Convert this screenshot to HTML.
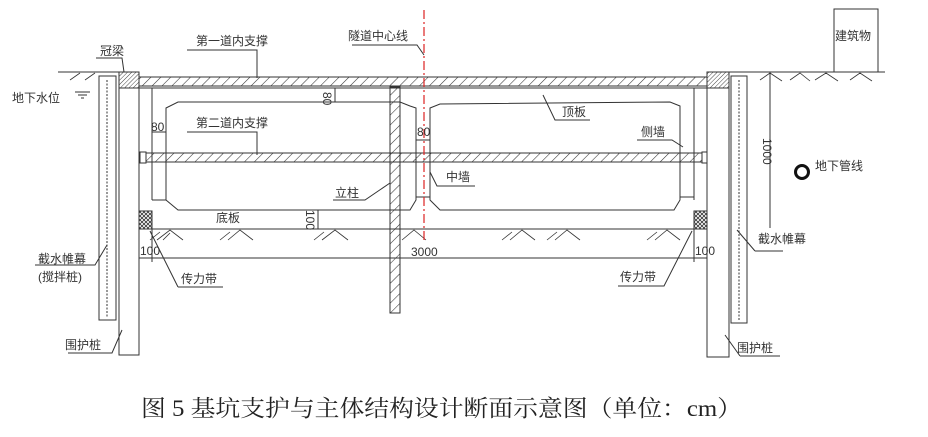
<!DOCTYPE html>
<html><head><meta charset="utf-8"><style>
html,body{margin:0;padding:0;background:#fff;}
svg{display:block}
text{font-family:"Liberation Sans","Noto Sans CJK SC",sans-serif;font-size:12px;fill:#333;}
.cap{font-family:"Liberation Serif","Noto Serif CJK SC",serif;font-size:23px;fill:#222;}
</style></head><body>
<svg width="928" height="437" viewBox="0 0 928 437" xmlns="http://www.w3.org/2000/svg">
<defs>
<pattern id="h" width="7" height="7" patternUnits="userSpaceOnUse" patternTransform="rotate(45)">
<line x1="0" y1="0" x2="0" y2="7" stroke="#333" stroke-width="1.1"/></pattern>
<pattern id="hd" width="3" height="3" patternUnits="userSpaceOnUse" patternTransform="rotate(45)">
<line x1="0" y1="0" x2="0" y2="3" stroke="#333" stroke-width="0.9"/></pattern>
<pattern id="x" width="4" height="4" patternUnits="userSpaceOnUse">
<path d="M0 0L4 4M4 0L0 4" stroke="#333" stroke-width="0.8"/></pattern>
</defs>
<rect width="928" height="437" fill="#fff"/>
<g stroke="#333" stroke-width="1" fill="none">
<!-- ground -->
<line x1="58" y1="72" x2="120" y2="72"/>
<line x1="729" y1="72" x2="885" y2="72"/>
<!-- building -->
<rect x="834" y="9" width="44" height="63"/>
<!-- left mixing pile -->
<rect x="99" y="76" width="17" height="244"/>
<line x1="107" y1="80" x2="107" y2="318" stroke-dasharray="2,1.5"/>
<!-- right mixing pile -->
<rect x="731" y="76" width="16" height="247"/>
<line x1="739" y1="80" x2="739" y2="321" stroke-dasharray="2,1.5"/>
<!-- retaining piles -->
<rect x="119" y="72" width="20" height="283"/>
<rect x="707" y="72" width="22" height="285"/>
<!-- crown beams -->
<rect x="119" y="72" width="20" height="16" fill="url(#hd)"/>
<rect x="707" y="72" width="22" height="16" fill="url(#hd)"/>
<!-- top strut -->
<rect x="139" y="77" width="568" height="9" fill="url(#h)"/>
<line x1="139" y1="88" x2="707" y2="88"/>
<!-- side wall inner lines -->
<line x1="152" y1="88" x2="152" y2="200"/>
<line x1="694" y1="88" x2="694" y2="200"/>
<line x1="152" y1="200" x2="166" y2="200"/>
<line x1="680" y1="197" x2="694" y2="197"/>
<!-- tunnel left box -->
<path d="M166 108 L178 102 L400 102 L410 106 L416 108 L416 200 L410 210 L178 210 L166 200 Z"/>
<path d="M430 108 L440 104 L670 102 L680 106 L680 200 L674 210 L440 210 L430 200 Z"/>
<line x1="416" y1="197" x2="430" y2="197"/>
<line x1="416" y1="140" x2="430" y2="140"/>
<!-- column -->
<rect x="390" y="87" width="10" height="226" fill="url(#h)"/>
<!-- second strut -->
<rect x="146" y="153" width="556" height="9" fill="url(#h)"/>
<rect x="140" y="152" width="6" height="11" fill="#fff"/>
<rect x="702" y="152" width="5" height="11" fill="#fff"/>
<!-- soil line -->
<line x1="139" y1="229" x2="707" y2="229"/>
<rect x="139" y="211" width="13" height="18" fill="url(#x)"/>
<rect x="694" y="211" width="13" height="18" fill="url(#x)"/>
<!-- dimension line -->
<line x1="139" y1="258" x2="707" y2="258"/>
<line x1="152" y1="229" x2="152" y2="262"/>
<line x1="694" y1="229" x2="694" y2="262"/>
<!-- right dim 1000 -->
<line x1="770" y1="72" x2="770" y2="228"/>
<!-- soil hatch marks -->
<g stroke-width="0.8">
<path d="M157 240 L170 230 L183 240 M163 240 L170 233 M150 240 L160 232"/>
<path d="M228 240 L240 230 L253 240 M220 240 L230 232"/>
<path d="M322 240 L335 230 L348 240 M314 240 L324 232"/>
<path d="M402 240 L414 230 L426 240"/>
<path d="M510 240 L522 230 L535 240 M502 240 L512 232"/>
<path d="M555 240 L567 230 L580 240 M547 240 L557 232"/>
<path d="M655 240 L667 230 L680 240 M647 240 L657 232"/>
<path d="M760 80 L770 73 M770 73 L782 81 M790 80 L800 73 L810 81 M815 80 L826 73 L838 81 M850 80 L860 73 L872 81 M70 80 L80 73 M85 80 L95 73"/>
</g>
<!-- water table -->
<path d="M75 92 L90 92 M78 95 L87 95 M81 98 L84 98"/>
<!-- pipe -->
<circle cx="802" cy="172" r="6.5" stroke="#111" stroke-width="3"/>
<!-- small dims -->
<line x1="335" y1="88" x2="335" y2="102"/>
<line x1="152" y1="132" x2="166" y2="132"/>
<line x1="416" y1="140" x2="430" y2="140"/>
<line x1="318" y1="210" x2="318" y2="229"/>
<!-- leaders -->
<path d="M96 58 L122 58 L124 72"/>
<path d="M187 50 L257 50 L257 78"/>
<path d="M352 45 L417 45 L424 55"/>
<path d="M187 132 L257 132 L257 155"/>
<path d="M333 200 L365 200 L390 183"/>
<path d="M430 172 L437 186 L475 186"/>
<path d="M543 95 L555 120 L590 120"/>
<path d="M637 140 L672 140 L683 147"/>
<path d="M35 265 L95 265 L107 245"/>
<path d="M178 287 L223 287 M178 287 L150 231"/>
<path d="M618 286 L664 286 L692 231"/>
<path d="M755 251 L783 251 M755 251 L737 230"/>
<path d="M68 353 L112 353 L122 330"/>
<path d="M740 356 L780 356 M740 356 L725 335"/>
</g>
<!-- centerline -->
<line x1="424" y1="10" x2="424" y2="240" stroke="#d22" stroke-width="1.2" stroke-dasharray="9,3,2,3"/>
<!-- labels -->
<text x="100" y="55">冠梁</text>
<text x="196" y="45">第一道内支撑</text>
<text x="348" y="40">隧道中心线</text>
<text x="12" y="102">地下水位</text>
<text x="196" y="127">第二道内支撑</text>
<text x="335" y="197">立柱</text>
<text x="446" y="181">中墙</text>
<text x="216" y="222">底板</text>
<text x="562" y="116">顶板</text>
<text x="641" y="136">侧墙</text>
<text x="38" y="263">截水帷幕</text>
<text x="38" y="281">(搅拌桩)</text>
<text x="181" y="283">传力带</text>
<text x="620" y="281">传力带</text>
<text x="758" y="243">截水帷幕</text>
<text x="65" y="349">围护桩</text>
<text x="737" y="352">围护桩</text>
<text x="815" y="170">地下管线</text>
<text x="835" y="40">建筑物</text>
<g style="font-size:10px">
<text x="151" y="131">80</text>
<text x="417" y="136">80</text>
<text x="140" y="255">100</text>
<text x="695" y="255">100</text>
<text x="411" y="256">3000</text>
<text transform="translate(323,92) rotate(90)">80</text>
<text transform="translate(306,210) rotate(90)">100</text>
<text transform="translate(763,138) rotate(90)">1000</text>
</g>
<text class="cap" x="141" y="416" textLength="601" lengthAdjust="spacingAndGlyphs">图 5 基坑支护与主体结构设计断面示意图（单位：cm）</text>
</svg>
</body></html>
